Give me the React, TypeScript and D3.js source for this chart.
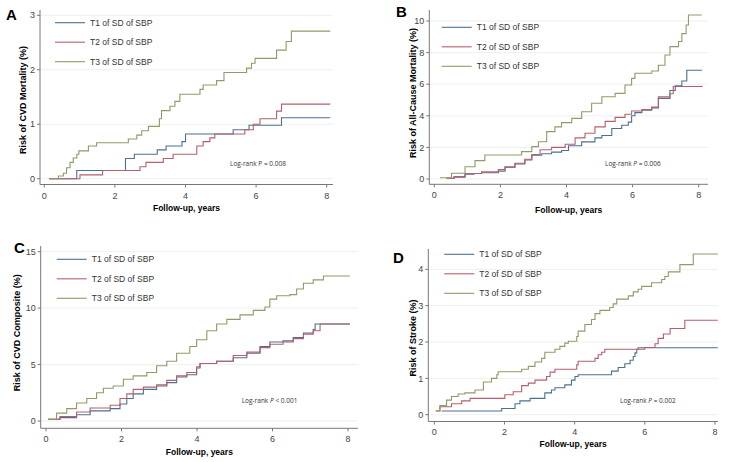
import React from "react";
import * as d3 from "d3";

type Pt = [number, number];

// series labels / colours
const seriesNames = ["T1 of SD of SBP", "T2 of SD of SBP", "T3 of SD of SBP"];
const seriesColors = ["#4b7190", "#b65f6c", "#8f9b68"];
const xTicks = [0, 2, 4, 6, 8];

// A: CVD mortality (years, %)
const mortT1: Pt[] = [[0.14, 0], [0.92, 0.15], [2.3, 0.37], [2.55, 0.45], [3.2, 0.53], [3.45, 0.6], [3.9, 0.68], [4.0, 0.82], [5.35, 0.9], [5.8, 0.98], [6.72, 1.12], [8.1, 1.12]];
const mortT2: Pt[] = [[0.14, 0], [1.01, 0.07], [1.65, 0.15], [2.71, 0.22], [2.88, 0.3], [3.37, 0.37], [3.65, 0.45], [4.32, 0.6], [4.5, 0.68], [4.69, 0.75], [4.83, 0.82], [5.68, 0.9], [5.92, 1.0], [6.11, 1.1], [6.58, 1.24], [6.72, 1.37], [8.1, 1.37]];
const mortT3: Pt[] = [[0.14, 0], [0.4, 0.05], [0.54, 0.1], [0.63, 0.2], [0.73, 0.3], [0.82, 0.38], [0.92, 0.45], [0.98, 0.51], [1.25, 0.6], [1.48, 0.66], [2.38, 0.73], [2.62, 0.8], [2.76, 0.88], [2.95, 0.96], [3.26, 1.1], [3.32, 1.25], [3.56, 1.33], [3.7, 1.42], [3.84, 1.55], [4.41, 1.64], [4.5, 1.72], [4.88, 1.8], [5.09, 1.95], [5.73, 2.03], [5.87, 2.12], [5.97, 2.21], [6.58, 2.36], [6.85, 2.52], [7.0, 2.71], [8.1, 2.71]];
const mortYTicks = [0, 1, 2, 3];

// B: all-cause mortality
const allT1: Pt[] = [[0.37, 0.05], [0.6, 0.12], [0.93, 0.3], [1.2, 0.35], [1.43, 0.4], [1.94, 0.5], [2.14, 0.75], [2.44, 0.95], [2.74, 1.2], [2.95, 1.5], [3.25, 1.6], [3.55, 1.7], [3.85, 1.8], [4.06, 2.1], [4.46, 2.35], [4.86, 2.6], [5.07, 2.75], [5.37, 3.2], [5.67, 3.4], [5.87, 3.6], [5.97, 4.0], [6.07, 4.2], [6.28, 4.35], [6.58, 4.5], [6.78, 5.1], [7.13, 5.6], [7.29, 5.9], [7.49, 6.2], [7.64, 6.88], [8.1, 6.88]];
const allT2: Pt[] = [[0.37, 0.05], [0.6, 0.15], [0.93, 0.35], [1.43, 0.45], [1.94, 0.6], [2.14, 0.75], [2.44, 1.0], [2.74, 1.25], [2.95, 1.55], [3.2, 1.85], [3.55, 2.0], [3.96, 2.2], [4.26, 2.6], [4.56, 2.9], [4.86, 3.3], [5.17, 3.65], [5.47, 3.9], [5.77, 4.1], [5.97, 4.3], [6.28, 4.4], [6.58, 4.55], [6.78, 5.2], [7.13, 5.4], [7.23, 5.85], [8.1, 5.9]];
const allT3: Pt[] = [[0.17, 0.08], [0.52, 0.36], [0.93, 0.78], [1.23, 1.16], [1.53, 1.52], [2.34, 1.52], [2.64, 1.73], [2.95, 2.05], [3.15, 2.36], [3.4, 3.0], [3.65, 3.3], [3.85, 3.57], [4.16, 3.84], [4.46, 4.26], [4.76, 4.79], [5.07, 5.21], [5.47, 5.42], [5.77, 5.95], [5.97, 6.37], [6.07, 6.69], [6.58, 6.84], [6.78, 7.2], [6.98, 7.85], [7.13, 8.38], [7.39, 8.7], [7.49, 9.2], [7.62, 9.75], [7.69, 10.38], [8.09, 10.38]];
const allYTicks = [0, 2, 4, 6, 8, 10];

// C: CVD composite
const compT1: Pt[] = [[0.06, 0.15], [0.37, 0.3], [0.81, 0.55], [1.17, 0.9], [1.7, 1.1], [1.96, 1.5], [2.14, 2.0], [2.31, 2.4], [2.58, 2.8], [2.93, 3.1], [3.2, 3.4], [3.46, 3.9], [3.73, 4.1], [3.99, 4.7], [4.08, 5.1], [4.52, 5.3], [4.96, 5.6], [5.32, 6.0], [5.67, 6.6], [5.93, 7.0], [6.28, 7.1], [6.55, 7.4], [6.82, 7.8], [7.08, 8.1], [7.13, 8.6], [8.05, 8.6]];
const compT2: Pt[] = [[0.06, 0.15], [0.37, 0.4], [0.81, 0.8], [1.17, 1.15], [1.7, 1.4], [1.96, 2.0], [2.14, 2.4], [2.31, 2.8], [2.58, 3.0], [2.93, 3.2], [3.2, 3.6], [3.46, 4.0], [3.73, 4.3], [3.99, 4.8], [4.08, 5.1], [4.52, 5.3], [4.96, 5.8], [5.32, 6.1], [5.67, 6.5], [5.93, 6.8], [6.28, 7.0], [6.55, 7.3], [6.82, 7.7], [7.08, 8.0], [7.26, 8.6], [8.05, 8.6]];
const compT3: Pt[] = [[0.06, 0.15], [0.28, 0.7], [0.55, 1.1], [0.81, 1.6], [1.08, 2.0], [1.34, 2.5], [1.52, 2.9], [1.78, 3.1], [2.05, 3.7], [2.31, 4.0], [2.67, 4.3], [2.93, 4.9], [3.2, 5.3], [3.46, 6.0], [3.81, 6.6], [3.99, 7.2], [4.26, 8.0], [4.52, 8.6], [4.79, 9.0], [5.14, 9.4], [5.49, 9.8], [5.8, 10.1], [5.93, 10.8], [6.11, 11.1], [6.46, 11.2], [6.64, 11.7], [6.82, 12.2], [7.08, 12.5], [7.35, 12.85], [8.05, 12.85]];
const compYTicks = [0, 5, 10, 15];

// D: stroke
const strokeT1: Pt[] = [[0.21, 0.1], [1.92, 0.17], [2.3, 0.3], [2.44, 0.38], [2.73, 0.45], [3.15, 0.6], [3.34, 0.68], [3.44, 0.74], [3.72, 0.82], [3.91, 0.95], [4.01, 1.05], [4.1, 1.1], [5.05, 1.2], [5.24, 1.3], [5.43, 1.4], [5.58, 1.5], [5.67, 1.6], [5.72, 1.7], [5.77, 1.8], [5.81, 1.84], [8.08, 1.84]];
const strokeT2: Pt[] = [[0.04, 0.1], [0.16, 0.22], [0.49, 0.3], [0.78, 0.38], [1.02, 0.45], [2.01, 0.55], [2.25, 0.63], [2.49, 0.8], [2.68, 0.87], [2.87, 0.95], [3.2, 1.05], [3.3, 1.17], [3.44, 1.25], [4.06, 1.37], [4.1, 1.47], [4.58, 1.55], [4.67, 1.65], [4.77, 1.72], [4.86, 1.8], [6.0, 1.85], [6.29, 1.95], [6.38, 2.1], [6.53, 2.22], [6.72, 2.37], [7.14, 2.6], [8.08, 2.6]];
const strokeT3: Pt[] = [[0.04, 0.1], [0.16, 0.25], [0.35, 0.4], [0.49, 0.5], [0.68, 0.57], [0.87, 0.6], [1.16, 0.68], [1.4, 0.9], [1.63, 1.0], [1.78, 1.1], [1.82, 1.18], [2.49, 1.25], [2.68, 1.33], [2.87, 1.45], [3.06, 1.55], [3.15, 1.72], [3.44, 1.8], [3.58, 1.88], [3.72, 1.97], [3.82, 2.02], [4.06, 2.15], [4.1, 2.3], [4.29, 2.48], [4.48, 2.62], [4.58, 2.78], [4.72, 2.87], [5.0, 2.95], [5.1, 3.05], [5.2, 3.18], [5.53, 3.27], [5.67, 3.38], [5.81, 3.45], [5.91, 3.53], [6.19, 3.63], [6.48, 3.72], [6.57, 3.8], [6.67, 3.93], [7.0, 4.13], [7.38, 4.42], [8.08, 4.42]];
const strokeYTicks = [0, 1, 2, 3, 4];

const txt = "'Liberation Sans', Arial, sans-serif";

function Panel({ letter, letterX, letterY, title, pval, series, yTicks, x0, x8, axisX, axisY, axisTop, axisRight, yBase, yTopPx, legX, legY, pX, pY, titleX, titleY, xTitleY, tickGap }: any) {
  const x = d3.scaleLinear().domain([0, 8]).range([x0, x8]);
  const yMax = yTicks[yTicks.length - 1];
  const y = d3.scaleLinear().domain([0, yMax]).range([yBase, yTopPx]);
  const line = d3.line<Pt>().x(d => x(d[0])).y(d => y(d[1])).curve(d3.curveStepAfter);
  return (
    <g>
      <text x={letterX} y={letterY} fontFamily={txt} fontWeight="bold" fontSize={15}>{letter}</text>
      {yTicks.map((t: number) => (
        <g key={t}>
          <line x1={axisX} x2={axisRight} y1={y(t)} y2={y(t)} stroke="#efefef" strokeWidth={1} />
          <line x1={axisX - 3} x2={axisX} y1={y(t)} y2={y(t)} stroke="#777" />
          <text x={axisX - 5} y={y(t)} dy="0.35em" textAnchor="end" fontFamily={txt} fontSize={9} fill="#444">{t}</text>
        </g>
      ))}
      {xTicks.map(t => (
        <g key={t}>
          <line x1={x(t)} x2={x(t)} y1={axisY} y2={axisY + 3} stroke="#777" />
          <text x={x(t)} y={axisY + tickGap} textAnchor="middle" fontFamily={txt} fontSize={9} fill="#444">{t}</text>
        </g>
      ))}
      <line x1={axisX} x2={axisX} y1={axisTop} y2={axisY} stroke="#777" />
      <line x1={axisX} x2={axisRight} y1={axisY} y2={axisY} stroke="#777" />
      {series.map((s: Pt[], i: number) => (
        <path key={i} d={line(s) || ""} fill="none" stroke={seriesColors[i]} strokeWidth={1.1} />
      ))}
      {seriesNames.map((n, i) => (
        <g key={n}>
          <line x1={legX} x2={legX + 30} y1={legY + i * 19.5} y2={legY + i * 19.5} stroke={seriesColors[i]} strokeWidth={1.1} />
          <text x={legX + 35} y={legY + i * 19.5} dy="0.35em" fontFamily={txt} fontSize={8.5} fill="#333">{n}</text>
        </g>
      ))}
      <text x={pX} y={pY} dy="0.35em" fontFamily="'Open Sans', sans-serif" fontSize={6.5} fill="#333">
        Log-rank <tspan fontStyle={letter === "A" ? "normal" : "italic"}>P</tspan> {pval}
      </text>
      <text transform={`translate(${titleX},${titleY}) rotate(-90)`} textAnchor="middle" dy="0.35em" fontFamily={txt} fontWeight="bold" fontSize={9}>{title}</text>
      <text x={(axisX + axisRight) / 2} y={xTitleY} textAnchor="middle" dy="0.35em" fontFamily={txt} fontWeight="bold" fontSize={8.5}>Follow-up, years</text>
    </g>
  );
}

export default function App() {
  return (
    <svg width={730} height={462} style={{ position: "absolute", left: 0, top: 0, background: "#fff" }}>
      <Panel letter="A" letterX={6} letterY={20} title="Risk of CVD Mortality (%)" pval="= 0.008"
        series={[mortT1, mortT2, mortT3]} yTicks={mortYTicks}
        x0={44.3} x8={326.7} axisX={40} axisY={184.5} axisTop={10} axisRight={333} yBase={178.7} yTopPx={15.3}
        legX={55} legY={22.7} pX={230} pY={164} titleX={22.5} titleY={100} xTitleY={208.5} tickGap={14} />
      <Panel letter="B" letterX={396} letterY={17} title="Risk of All-Cause Mortality (%)" pval="= 0.006"
        series={[allT1, allT2, allT3]} yTicks={allYTicks}
        x0={434.3} x8={698.7} axisX={429.3} axisY={184.3} axisTop={10} axisRight={708} yBase={179} yTopPx={21}
        legX={441.7} legY={27.3} pX={605} pY={163.3} titleX={413} titleY={93} xTitleY={210} tickGap={14} />
      <Panel letter="C" letterX={14} letterY={253} title="Risk of CVD Composite (%)" pval="< 0.001"
        series={[compT1, compT2, compT3]} yTicks={compYTicks}
        x0={46} x8={348} axisX={40.7} axisY={428.3} axisTop={246} axisRight={358} yBase={421} yTopPx={251.7}
        legX={56.7} legY={259.3} pX={241.7} pY={400.3} titleX={16.7} titleY={332.7} xTitleY={451.7} tickGap={14} />
      <Panel letter="D" letterX={393} letterY={263} title="Risk of Stroke (%)" pval="= 0.002"
        series={[strokeT1, strokeT2, strokeT3]} yTicks={strokeYTicks}
        x0={434.3} x8={715} axisX={428.3} axisY={421.5} axisTop={249} axisRight={718} yBase={414.7} yTopPx={269.3}
        legX={444.3} legY={254.3} pX={620} pY={400.3} titleX={413.3} titleY={338} xTitleY={444.3} tickGap={13} />
    </svg>
  );
}
